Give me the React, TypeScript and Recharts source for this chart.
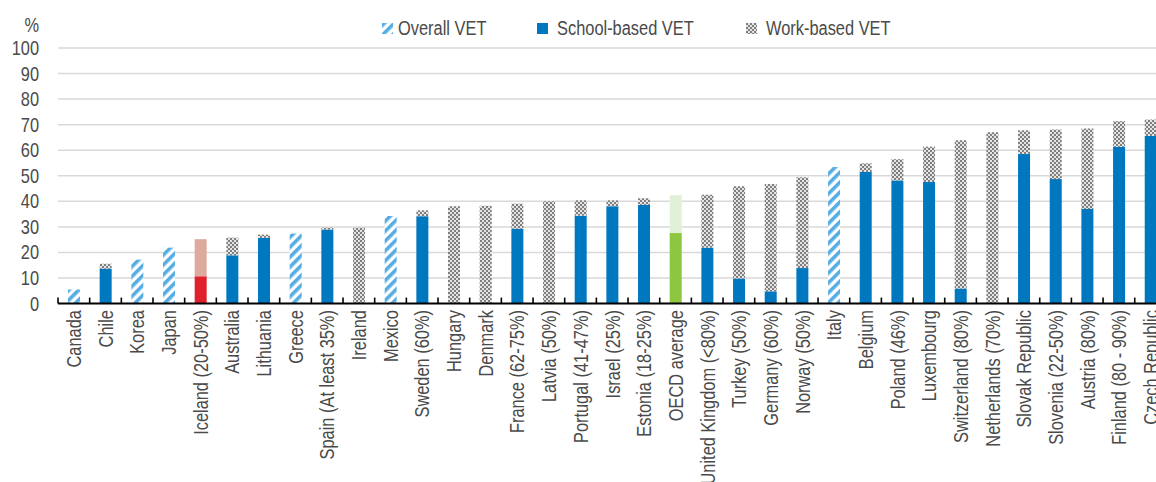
import React from "react";
import { BarChart, Bar, XAxis, YAxis, CartesianGrid, Cell } from "recharts";

const categories = [
  "Canada", "Chile", "Korea", "Japan", "Iceland (20-50%)", "Australia", "Lithuania", "Greece",
  "Spain (At least 35%)", "Ireland", "Mexico", "Sweden (60%)", "Hungary", "Denmark", "France (62-75%)",
  "Latvia (50%)", "Portugal (41-47%)", "Israel (25%)", "Estonia (18-25%)", "OECD average",
  "United Kingdom (<80%)", "Turkey (50%)", "Germany (60%)", "Norway (50%)", "Italy", "Belgium",
  "Poland (46%)", "Luxembourg", "Switzerland (80%)", "Netherlands (70%)", "Slovak Republic",
  "Slovenia (22-50%)", "Austria (80%)", "Finland (80 - 90%)", "Czech Republic",
];

const overallVET = [
  5.5, null, 17.2, 21.9, null, null, null, 27.4, null, null, 34.3, null, null, null, null,
  null, null, null, null, null, null, null, null, null, 53.4, null, null, null, null, null,
  null, null, null, null, null,
];

const schoolVET = [
  null, 13.7, null, null, 10.7, 18.9, 25.7, null, 29.0, 0, null, 34.2, 0, 0, 29.3,
  0, 34.4, 38.1, 38.6, 27.6, 21.9, 9.8, 4.8, 13.9, null, 51.5, 48.2, 47.6, 5.9, 0,
  58.5, 48.7, 37.0, 61.3, 65.6,
];

const workVET = [
  null, 1.9, null, null, 14.5, 6.9, 1.3, null, 0.7, 29.7, null, 2.3, 38.1, 38.3, 9.8,
  40.0, 6.0, 2.3, 2.6, 14.8, 20.7, 36.1, 42.0, 35.5, null, 3.4, 8.3, 13.8, 58.0, 67.0,
  9.3, 19.4, 31.5, 10.1, 6.4,
];

const yTicks = [0, 10, 20, 30, 40, 50, 60, 70, 80, 90, 100];
const seriesNames = ["Overall VET", "School-based VET", "Work-based VET"];
const highlightSchool: Record<string, string> = { "Iceland (20-50%)": "#e0202b", "OECD average": "#8dc63f" };
const highlightWork: Record<string, string> = { "Iceland (20-50%)": "#dcab9d", "OECD average": "#e3f0d9" };

const data = categories.map((c, i) => ({
  name: c,
  overall: overallVET[i],
  school: schoolVET[i],
  work: workVET[i],
}));

const FONT = "'Liberation Sans', Arial, sans-serif";
const FS = 20;
const NARROW = 0.82;
const TEXT = "#4a4a4a";
const SCHOOL = "#0078bf";
const CHART_W = 1200;
const PLOT_LEFT = 58;
const PLOT_RIGHT = 1166.4;
const BAND = (PLOT_RIGHT - PLOT_LEFT) / categories.length;
const LEGEND_ICON_X = [382, 537, 746];

const XTick = (props: any) => {
  const { x, y, payload } = props;
  const bx = x - BAND / 2;
  return (
    <g>
      <line x1={bx} x2={bx} y1={y - 6} y2={y} stroke="#000" strokeWidth={1.6} />
      <text
        transform={`translate(${x + 7.3},${y + 6.5}) rotate(-90) scale(${NARROW},1)`}
        textAnchor="end"
        fontSize={FS}
        fill={TEXT}
        fontFamily={FONT}
      >
        {payload.value}
      </text>
    </g>
  );
};

const YTick = (props: any) => {
  const { x, y, payload } = props;
  return (
    <text
      transform={`translate(${x},${y}) scale(${NARROW},1)`}
      dy="0.35em"
      textAnchor="end"
      fontSize={FS}
      fill={TEXT}
      fontFamily={FONT}
    >
      {payload.value}
    </text>
  );
};

const Swatch = ({ fill }: { fill: string }) => (
  <svg width={11} height={11} style={{ display: "block" }}>
    <rect x={0} y={0} width={11} height={11} fill={fill} />
  </svg>
);

export default function App() {
  const legendFills = ["url(#hatchBlue)", SCHOOL, "url(#checkGray)"];
  return (
    <div
      style={{
        position: "absolute",
        left: 0,
        top: 0,
        width: 1156,
        height: 482,
        overflow: "hidden",
        background: "#fff",
        fontFamily: FONT,
      }}
    >
      <svg width={0} height={0} style={{ position: "absolute" }}>
        <defs>
          <pattern id="hatchBlue" width={7} height={7} patternUnits="userSpaceOnUse" patternTransform="rotate(-45)">
            <rect x={0} y={0} width={7} height={7} fill="#ffffff" />
            <rect x={0} y={0} width={7} height={3.6} fill="#55ade3" />
          </pattern>
          <pattern id="checkGray" width={4} height={4} patternUnits="userSpaceOnUse">
            <rect x={0} y={0} width={4} height={4} fill="#e4e4e4" />
            <rect x={0} y={0} width={2} height={2} fill="#7f7f7f" />
            <rect x={2} y={2} width={2} height={2} fill="#7f7f7f" />
          </pattern>
        </defs>
      </svg>

      <div
        style={{
          position: "absolute",
          left: 0,
          top: 14,
          width: 39,
          textAlign: "right",
          fontSize: FS,
          color: TEXT,
          lineHeight: "22px",
          transform: `scaleX(${NARROW})`,
          transformOrigin: "right center",
        }}
      >
        %
      </div>

      {seriesNames.map((n, i) => (
        <div
          key={n}
          style={{
            position: "absolute",
            left: LEGEND_ICON_X[i],
            top: 17,
            height: 22,
            display: "flex",
            alignItems: "center",
            fontSize: FS,
            color: TEXT,
            lineHeight: "22px",
            whiteSpace: "nowrap",
          }}
        >
          <Swatch fill={legendFills[i]} />
          <span
            style={{
              display: "inline-block",
              marginLeft: i === 0 ? 4.5 : 8.5,
              transform: `scaleX(${NARROW})`,
              transformOrigin: "left center",
            }}
          >
            {n}
          </span>
        </div>
      ))}

      <BarChart
        width={CHART_W}
        height={482}
        data={data}
        margin={{ top: 48, right: CHART_W - PLOT_RIGHT, left: 0, bottom: 0 }}
        barSize={12}
      >
        <CartesianGrid vertical={false} stroke="#d9d9d9" strokeWidth={1.5} horizontalValues={yTicks.slice(1)} />
        <YAxis
          type="number"
          domain={[0, 100]}
          ticks={yTicks}
          width={PLOT_LEFT}
          axisLine={false}
          tickLine={false}
          tickSize={0}
          tickMargin={19}
          tick={<YTick />}
          interval={0}
        />
        <XAxis
          dataKey="name"
          type="category"
          interval={0}
          height={178.4}
          axisLine={{ stroke: "#000", strokeWidth: 2 }}
          tickLine={false}
          tickSize={0}
          tickMargin={0}
          tick={<XTick />}
        />
        <Bar dataKey="school" name={seriesNames[1]} stackId="a" fill={SCHOOL} isAnimationActive={false}>
          {data.map((d) => (
            <Cell key={d.name} fill={highlightSchool[d.name] ?? SCHOOL} />
          ))}
        </Bar>
        <Bar dataKey="work" name={seriesNames[2]} stackId="a" fill="url(#checkGray)" isAnimationActive={false}>
          {data.map((d) => (
            <Cell key={d.name} fill={highlightWork[d.name] ?? "url(#checkGray)"} />
          ))}
        </Bar>
        <Bar dataKey="overall" name={seriesNames[0]} stackId="a" fill="url(#hatchBlue)" isAnimationActive={false} />
      </BarChart>
    </div>
  );
}
